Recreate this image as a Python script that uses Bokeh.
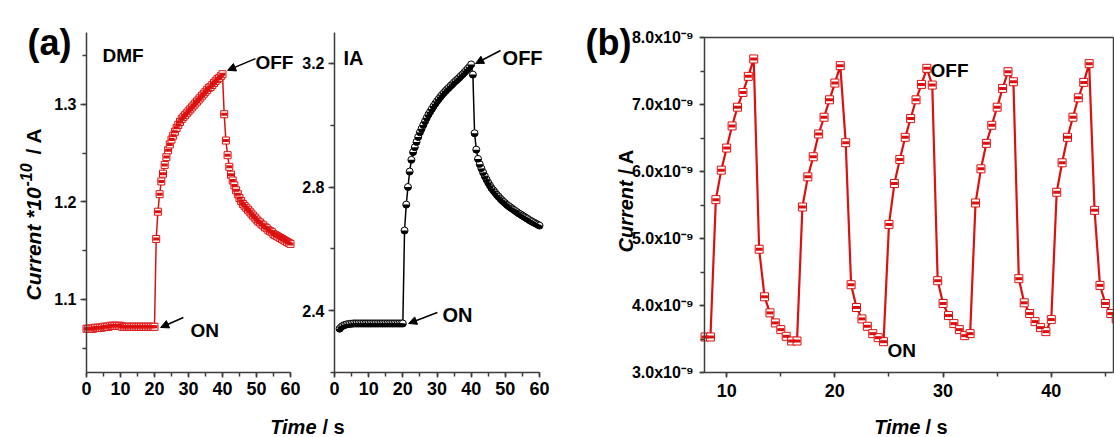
import numpy as np
from bokeh.plotting import figure
from bokeh.layouts import row
from bokeh.models import (Range1d, SingleIntervalTicker, FixedTicker, PrintfTickFormatter,
                          CustomJSTickFormatter, Label, Arrow, NormalHead, LinearAxis)
from bokeh.embed import file_html
from bokeh.resources import INLINE

# ---------------- data ----------------
# (a) DMF : time (s) and current (x1e-10 A)
dmf_time = [0.0, 0.5, 1.0, 1.5, 2.0, 2.5, 3.0, 3.5, 4.0, 4.5,
            5.0, 5.5, 6.0, 6.5, 7.0, 7.5, 8.0, 8.5, 9.0, 9.5,
            10.0, 10.5, 11.0, 11.5, 12.0, 12.5, 13.0, 13.5, 14.0, 14.5,
            15.0, 15.5, 16.0, 16.5, 17.0, 17.5, 18.0, 18.5, 19.0, 19.5,
            20.0,
            20.5, 21.0, 21.5, 22.0, 22.5, 23.0, 23.5, 24.0, 24.5,
            25.0, 25.5, 26.0, 26.5, 27.0, 27.5, 28.0, 28.5, 29.0, 29.5,
            30.0, 30.5, 31.0, 31.5, 32.0, 32.5, 33.0, 33.5, 34.0, 34.5,
            35.0, 35.5, 36.0, 36.5, 37.0, 37.5, 38.0, 38.5, 39.0, 39.5,
            40.0,
            40.5, 41.0, 41.5, 42.0, 42.5, 43.0, 43.5, 44.0, 44.5,
            45.0, 45.5, 46.0, 46.5, 47.0, 47.5, 48.0, 48.5, 49.0, 49.5,
            50.0, 50.5, 51.0, 51.5, 52.0, 52.5, 53.0, 53.5, 54.0, 54.5,
            55.0, 55.5, 56.0, 56.5, 57.0, 57.5, 58.0, 58.5, 59.0, 59.5,
            60.0]
dmf_current = [1.070, 1.070, 1.070, 1.070, 1.070, 1.071, 1.071, 1.071, 1.071, 1.071,
               1.072, 1.072, 1.072, 1.072, 1.073, 1.073, 1.073, 1.073, 1.073, 1.073,
               1.073, 1.072, 1.072, 1.072, 1.072, 1.072, 1.072, 1.072, 1.072, 1.072,
               1.072, 1.072, 1.072, 1.072, 1.072, 1.072, 1.072, 1.072, 1.072, 1.072,
               1.072,
               1.162, 1.190, 1.208, 1.221, 1.229, 1.238, 1.246, 1.253, 1.259,
               1.264, 1.268, 1.272, 1.276, 1.279, 1.282, 1.285, 1.287, 1.289, 1.291,
               1.293, 1.295, 1.297, 1.299, 1.301, 1.303, 1.305, 1.307, 1.309, 1.311,
               1.313, 1.315, 1.317, 1.318, 1.320, 1.322, 1.324, 1.326, 1.327, 1.329,
               1.331,
               1.290, 1.263, 1.248, 1.236, 1.228, 1.222, 1.217, 1.212, 1.208,
               1.204, 1.201, 1.198, 1.196, 1.194, 1.192, 1.190, 1.188, 1.186, 1.184,
               1.182, 1.180, 1.179, 1.177, 1.176, 1.174, 1.173, 1.171, 1.170, 1.169,
               1.167, 1.166, 1.165, 1.164, 1.163, 1.162, 1.161, 1.160, 1.159, 1.158,
               1.157]

# (a) IA : time (s) and current (x1e-10 A)
ia_time = [1.5, 2.0, 2.5, 3.0, 3.5, 4.0, 4.5,
           5.0, 5.5, 6.0, 6.5, 7.0, 7.5, 8.0, 8.5, 9.0, 9.5,
           10.0, 10.5, 11.0, 11.5, 12.0, 12.5, 13.0, 13.5, 14.0, 14.5,
           15.0, 15.5, 16.0, 16.5, 17.0, 17.5, 18.0, 18.5, 19.0, 19.5,
           20.0,
           20.5, 21.0, 21.5, 22.0, 22.5, 23.0, 23.5, 24.0, 24.5,
           25.0, 25.5, 26.0, 26.5, 27.0, 27.5, 28.0, 28.5, 29.0, 29.5,
           30.0, 30.5, 31.0, 31.5, 32.0, 32.5, 33.0, 33.5, 34.0, 34.5,
           35.0, 35.5, 36.0, 36.5, 37.0, 37.5, 38.0, 38.5, 39.0, 39.5,
           40.0,
           40.5, 41.0, 41.5, 42.0, 42.5, 43.0, 43.5, 44.0, 44.5,
           45.0, 45.5, 46.0, 46.5, 47.0, 47.5, 48.0, 48.5, 49.0, 49.5,
           50.0, 50.5, 51.0, 51.5, 52.0, 52.5, 53.0, 53.5, 54.0, 54.5,
           55.0, 55.5, 56.0, 56.5, 57.0, 57.5, 58.0, 58.5, 59.0, 59.5,
           60.0]
ia_current = [2.341, 2.347, 2.351, 2.353, 2.355, 2.356, 2.357,
              2.357, 2.358, 2.358, 2.358, 2.358, 2.358, 2.358, 2.358, 2.358, 2.358,
              2.358, 2.358, 2.358, 2.358, 2.358, 2.358, 2.358, 2.358, 2.358, 2.358,
              2.358, 2.358, 2.358, 2.358, 2.358, 2.358, 2.358, 2.358, 2.358, 2.358,
              2.358,
              2.659, 2.743, 2.800, 2.850, 2.888, 2.913, 2.929, 2.946, 2.962,
              2.977, 2.989, 3.001, 3.013, 3.024, 3.035, 3.044, 3.053, 3.062, 3.070,
              3.078, 3.085, 3.092, 3.099, 3.105, 3.111, 3.117, 3.122, 3.128, 3.133,
              3.139, 3.144, 3.149, 3.154, 3.160, 3.165, 3.171, 3.177, 3.183, 3.189,
              3.197,
              3.164, 2.974, 2.921, 2.891, 2.874, 2.860, 2.847, 2.835, 2.824,
              2.814, 2.805, 2.796, 2.789, 2.782, 2.775, 2.769, 2.763, 2.757, 2.752,
              2.747, 2.742, 2.738, 2.734, 2.730, 2.726, 2.722, 2.718, 2.714, 2.711,
              2.707, 2.704, 2.700, 2.697, 2.693, 2.690, 2.687, 2.684, 2.681, 2.678,
              2.675]

# (b) cycling : time (s) and current (x1e-9 A)
b_time = [8.0, 8.5, 9.0, 9.5, 10.0, 10.5, 11.0, 11.5, 12.0, 12.5,
          13.0, 13.5, 14.0, 14.5, 15.0, 15.5, 16.0, 16.5, 17.0, 17.5,
          18.0, 18.5, 19.0, 19.5, 20.0, 20.5, 21.0, 21.5, 22.0, 22.5,
          23.0, 23.5, 24.0, 24.5, 25.0, 25.5, 26.0, 26.5, 27.0, 27.5,
          28.0, 28.5, 29.0, 29.5, 30.0, 30.5, 31.0, 31.5, 32.0, 32.5,
          33.0, 33.5, 34.0, 34.5, 35.0, 35.5, 36.0, 36.5, 37.0, 37.5,
          38.0, 38.5, 39.0, 39.5, 40.0, 40.5, 41.0, 41.5, 42.0, 42.5,
          43.0, 43.5, 44.0, 44.5, 45.0, 45.5, 46.0]
b_current = [3.53, 3.53, 5.58, 6.02, 6.35, 6.68, 6.96, 7.18, 7.42, 7.68,
             4.84, 4.13, 3.89, 3.74, 3.64, 3.54, 3.47, 3.47, 5.47, 5.92,
             6.22, 6.56, 6.81, 7.07, 7.32, 7.58, 6.43, 4.31, 3.97, 3.80,
             3.69, 3.58, 3.52, 3.46, 5.21, 5.82, 6.18, 6.51, 6.79, 7.07,
             7.30, 7.54, 7.29, 4.37, 4.03, 3.85, 3.73, 3.64, 3.55, 3.58,
             5.53, 6.04, 6.42, 6.69, 6.96, 7.24, 7.49, 7.34, 4.40, 4.04,
             3.88, 3.76, 3.67, 3.61, 3.79, 5.69, 6.13, 6.51, 6.81, 7.10,
             7.33, 7.61, 5.42, 4.30, 4.03, 3.88, 3.80]

# axis limits
dmf_xlim, dmf_ylim = (0, 60), (1.0251, 1.3738)
ia_xlim, ia_ylim = (0, 60), (2.1992, 3.3004)
b_xlim, b_ylim = (7.95, 45.75), (3.0, 8.0)

# ---------------- style ----------------
FONT = "Liberation Sans"
RED = "#dd1010"
AXC = "#3c3c3c"
H = 437


def prange(lim, px0, px1, total):
    """data range covering the whole canvas, given the pixel span of the axis limits"""
    scale = (lim[1] - lim[0]) / (px1 - px0)
    return Range1d(lim[0] - px0 * scale, lim[1] + (total - px1) * scale)


def yrange(lim, py_top, py_bottom, total):
    scale = (lim[1] - lim[0]) / (py_bottom - py_top)
    return Range1d(lim[0] - (total - py_bottom) * scale, lim[1] + py_top * scale)


def make_fig(w, xr, yr):
    p = figure(width=w, height=H, x_range=xr, y_range=yr, x_axis_type=None,
               y_axis_type=None, output_backend="svg", toolbar_location=None, tools="")
    p.min_border_left = p.min_border_right = p.min_border_top = p.min_border_bottom = 0
    p.grid.visible = False
    p.outline_line_color = None
    p.background_fill_color = "white"
    p.border_fill_color = "white"
    return p


def style_axis(ax, label_size, tick_out, minor_out, standoff):
    ax.axis_line_color = AXC
    ax.axis_line_width = 1.5
    ax.major_tick_line_color = AXC
    ax.major_tick_line_width = 1.5
    ax.minor_tick_line_color = AXC
    ax.minor_tick_line_width = 1.5
    ax.major_tick_in = 0
    ax.major_tick_out = tick_out
    ax.minor_tick_in = 0
    ax.minor_tick_out = minor_out
    ax.major_label_text_font = FONT
    ax.major_label_text_font_style = "bold"
    ax.major_label_text_font_size = label_size
    ax.major_label_text_color = "black"
    ax.major_label_standoff = standoff


def lab(p, x, y, text, size="19px", style="bold", align="left",
        baseline="alphabetic", angle=0.0, **kw):
    p.add_layout(Label(x=x, y=y, text=text, text_font=FONT, text_font_size=size,
                       text_font_style=style, text_align=align,
                       text_baseline=baseline, angle=angle, text_color="black", **kw))


def arrow(p, xs, ys, xe, ye, **kw):
    p.add_layout(Arrow(end=NormalHead(size=8, fill_color="black", line_color="black",
                                      line_width=1),
                       x_start=xs, y_start=ys, x_end=xe, y_end=ye,
                       line_color="black", line_width=1.5, **kw))


# ---------------- panel (a) : DMF + IA in one canvas ----------------
pa = make_fig(560, prange(dmf_xlim, 86, 290, 560), yrange(dmf_ylim, 32, 372, H))
pa.extra_x_ranges = {"iax": prange(ia_xlim, 334, 539, 560)}
pa.extra_y_ranges = {"iay": yrange(ia_ylim, 32, 372, H)}
IA = dict(x_range_name="iax", y_range_name="iay")

ax = LinearAxis(fixed_location=dmf_ylim[0], bounds=dmf_xlim,
                ticker=SingleIntervalTicker(interval=10, num_minor_ticks=2))
style_axis(ax, "18px", 5, 4, 4)
pa.add_layout(ax, "below")
ax = LinearAxis(fixed_location=dmf_xlim[0], bounds=dmf_ylim,
                ticker=SingleIntervalTicker(interval=0.1, num_minor_ticks=2),
                formatter=PrintfTickFormatter(format="%.1f"))
style_axis(ax, "16px", 6, 4, 4)
pa.add_layout(ax, "left")
ax = LinearAxis(fixed_location=ia_ylim[0], bounds=ia_xlim,
                ticker=SingleIntervalTicker(interval=10, num_minor_ticks=2), **IA)
style_axis(ax, "18px", 5, 4, 4)
pa.add_layout(ax, "below")
ax = LinearAxis(fixed_location=ia_xlim[0], bounds=ia_ylim,
                ticker=SingleIntervalTicker(interval=0.4, num_minor_ticks=2),
                formatter=PrintfTickFormatter(format="%.1f"), **IA)
style_axis(ax, "16px", 6, 4, 4)
pa.add_layout(ax, "left")

# DMF series
pa.line(dmf_time, dmf_current, line_color=RED, line_width=1.5)
pa.scatter(dmf_time, dmf_current, marker="square", size=7, fill_color="white",
           line_color=RED, line_width=1)
pa.scatter(dmf_time, dmf_current, marker="dash", size=6, line_color=RED, line_width=3)

# IA series
pa.line(ia_time, ia_current, line_color="black", line_width=1.5, **IA)
pa.scatter(ia_time, ia_current, marker="circle", size=7, fill_color="white",
           line_color="black", line_width=1, **IA)
pa.wedge(x=ia_time, y=ia_current, radius=3.5, radius_units="screen",
         start_angle=np.pi, end_angle=2 * np.pi, fill_color="black", line_color=None, **IA)

# texts in DMF coordinates
lab(pa, -17.35, 1.3636, "(a)", size="36px")
lab(pa, 4.7, 1.350, "DMF")
lab(pa, 49.7, 1.343, "OFF")
lab(pa, 30.6, 1.068, "ON")
arrow(pa, 49.7, 1.347, 41.5, 1.335)
arrow(pa, 28.5, 1.0815, 21.8, 1.0713)
lab(pa, -15.6, 1.099, "Current *10", size="21px", style="bold italic", angle=np.pi / 2)
lab(pa, -17.9, 1.2159, "-10", size="16px", style="bold italic", angle=np.pi / 2)
lab(pa, -15.6, 1.2487, "/ A", size="21px", style="bold", angle=np.pi / 2)
lab(pa, 67.65, 0.9697, "Time", size="20px", style="bold italic", align="right")
lab(pa, 69.41, 0.9697, "/ s", size="20px", style="bold")

# texts in IA coordinates
lab(pa, 2.6, 3.219, "IA", size="20px", **IA)
lab(pa, 49.2, 3.219, "OFF", size="20px", **IA)
lab(pa, 31.6, 2.384, "ON", size="20px", **IA)
arrow(pa, 48.6, 3.242, 41.3, 3.200, **IA)
arrow(pa, 30.1, 2.3935, 21.7, 2.358, **IA)

# ---------------- panel (b) ----------------
pb = make_fig(554, prange(b_xlim, 144, 553, 554), yrange(b_ylim, 37, 372, H))
ax = LinearAxis(fixed_location=b_ylim[0], bounds=b_xlim,
                ticker=SingleIntervalTicker(interval=10, num_minor_ticks=2))
style_axis(ax, "18px", 5, 4, 6)
pb.add_layout(ax, "below")
ax = LinearAxis(fixed_location=b_xlim[0], bounds=b_ylim,
                ticker=SingleIntervalTicker(interval=1, num_minor_ticks=2),
                formatter=CustomJSTickFormatter(
                    code="return tick.toFixed(1) + 'x10\u207b\u2079';"))
style_axis(ax, "16px", 5, 4, 6)
pb.add_layout(ax, "left")
for loc, side, bnds in ((b_ylim[1], "above", b_xlim), (b_xlim[1], "right", b_ylim)):
    ax = LinearAxis(fixed_location=loc, bounds=bnds,
                    ticker=FixedTicker(ticks=[], minor_ticks=[]))
    style_axis(ax, "16px", 0, 0, 0)
    ax.major_label_text_alpha = 0
    pb.add_layout(ax, side)

pb.line(b_time, b_current, line_color=RED, line_width=2.2)
pb.scatter(b_time, b_current, marker="square", size=8, fill_color="white",
           line_color=RED, line_width=1)
pb.scatter(b_time, b_current, marker="dash", size=7, line_color=RED, line_width=3)

lab(pb, -3.05, 7.925, "(b)", size="36px")
lab(pb, 28.84, 7.507, "OFF")
lab(pb, 24.86, 3.328, "ON")
lab(pb, 0.649, 4.791, "Current", size="20px", style="bold italic", angle=np.pi / 2)
lab(pb, 0.649, 5.955, "/ A", size="20px", style="bold", angle=np.pi / 2)
lab(pb, 27.91, 2.194, "Time", size="20px", style="bold italic", align="right")
lab(pb, 28.37, 2.194, "/ s", size="20px", style="bold")

layout = row(pa, pb, spacing=0)
open("out.html", "w").write(file_html(layout, INLINE))
